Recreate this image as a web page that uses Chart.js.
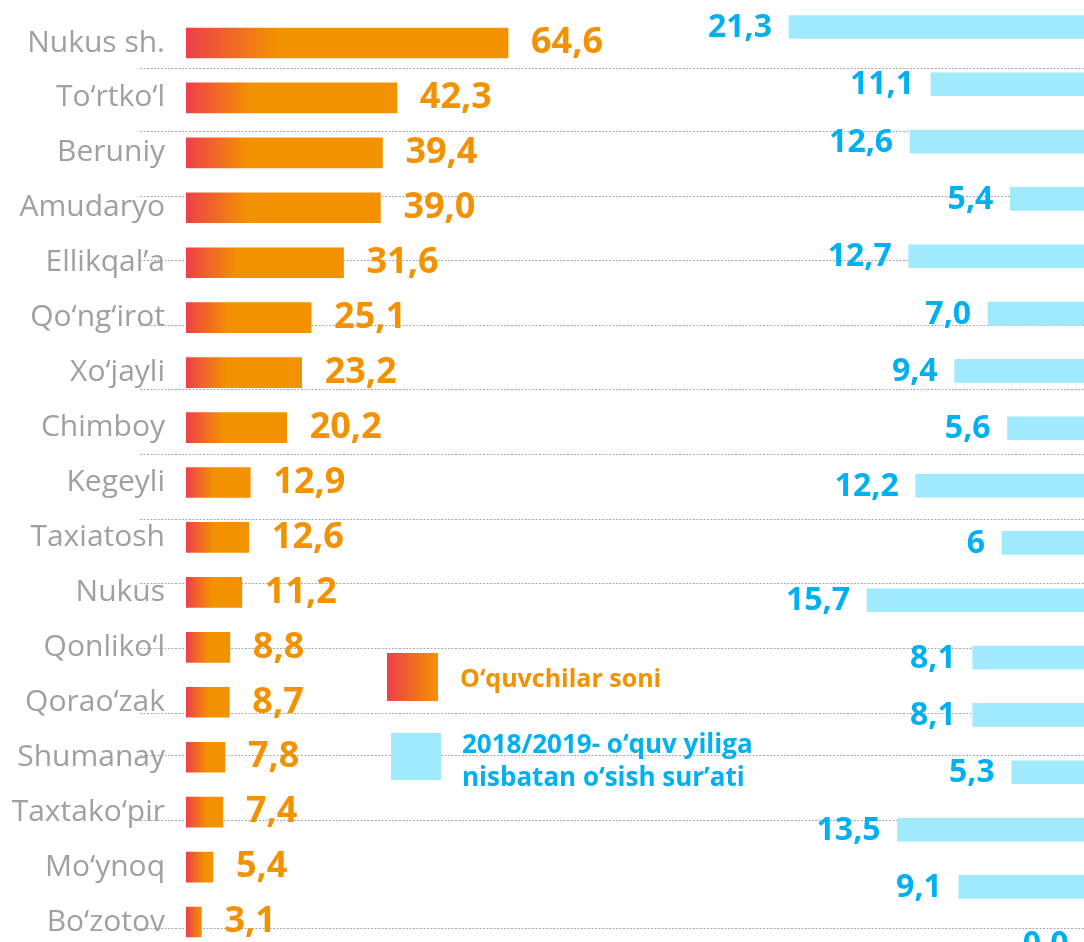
<!DOCTYPE html>
<html lang="uz">
<head>
    <meta charset="UTF-8">
    <title>O‘quvchilar soni</title>
    <script src="https://cdn.jsdelivr.net/npm/chart.js@4.4.1/dist/chart.umd.min.js"></script>
    <style>
        html, body {
            margin: 0;
            padding: 0;
            background: #fff;
            overflow: hidden;
        }

        #wrap {
            position: relative;
            width: 1084px;
            height: 942px;
            overflow: hidden;
            font-family: "Open Sans", sans-serif;
        }

        /* blue chart sits behind and carries the dotted grid */
        #growthBox {
            position: absolute;
            left: 0;
            top: -30px;
            width: 1100px;
            height: 1010px;
        }

        #pupilsBox {
            position: absolute;
            left: 0;
            top: 0;
            width: 1084px;
            height: 980px;
        }

        .legend-box {
            position: absolute;
        }

        .legend-text {
            position: absolute;
            font-weight: 700;
            font-size: 25px;
            white-space: nowrap;
        }
    </style>
</head>
<body>
    <div id="wrap">
        <div id="growthBox"><canvas id="growthChart"></canvas></div>
        <div id="pupilsBox"><canvas id="pupilsChart"></canvas></div>

        <div class="legend-box" style="left:387px;top:653px;width:51px;height:48px;background:linear-gradient(to right,#EE3F4A,#F39200);"></div>
        <div class="legend-text" style="left:460px;top:665px;line-height:25px;color:#F39200;">O‘quvchilar soni</div>

        <div class="legend-box" style="left:391px;top:733px;width:50px;height:47px;background:#A0EAFD;"></div>
        <div class="legend-text" style="left:462px;top:727px;line-height:33px;color:#00B0F0;font-size:26px;">2018/2019- o‘quv yiliga<br>nisbatan o‘sish sur’ati</div>
    </div>

    <script>
        // data
        const districts = ['Nukus sh.', 'To‘rtko‘l', 'Beruniy', 'Amudaryo', 'Ellikqal’a', 'Qo‘ng‘irot', 'Xo‘jayli',
            'Chimboy', 'Kegeyli', 'Taxiatosh', 'Nukus', 'Qonliko‘l', 'Qorao‘zak', 'Shumanay', 'Taxtako‘pir',
            'Mo‘ynoq', 'Bo‘zotov'];
        const pupils = [64.6, 42.3, 39.4, 39.0, 31.6, 25.1, 23.2, 20.2, 12.9, 12.6, 11.2, 8.8, 8.7, 7.8, 7.4, 5.4, 3.1];
        // growth rate, kept as printed (one value has no decimal)
        const growth = ['21.3', '11.1', '12.6', '5.4', '12.7', '7.0', '9.4', '5.6', '12.2', '6', '15.7', '8.1', '8.1',
            '5.3', '13.5', '9.1', '0.0'];
        // page y of the dotted separator lines
        const gridRows = [68, 137, 207, 277, 347, 417, 487, 557, 627, 697, 767, 790, 907];

        const ORANGE = '#F39200';
        const RED = '#EE3F4A';
        const BLUE_BAR = '#A0EAFD';
        const BLUE_TEXT = '#00B0F0';
        const GREY = '#A0A0A0';

        function comma(v) {
            if (typeof v === 'string') return v.replace('.', ',');
            return v.toFixed(1).replace('.', ',');
        }

        function makeLabels(o) {
            return {
                id: 'valueLabels',
                afterDatasetsDraw(chart) {
                    const ctx = chart.ctx;
                    const meta = chart.getDatasetMeta(0);
                    const data = chart.data.datasets[0].data;
                    ctx.save();
                    ctx.font = o.font;
                    ctx.fillStyle = o.color;
                    ctx.textAlign = o.align;
                    ctx.textBaseline = 'middle';
                    meta.data.forEach((bar, i) => {
                        ctx.fillText(comma(data[i]), bar.x + o.offset, bar.y + o.dy);
                    });
                    ctx.restore();
                }
            };
        }

        // ---- right side: growth rate, bars grow leftwards from the right edge
        const growthPad = { left: 140, right: 14.5, top: 28.3, bottom: 7.1 };
        const growthMax = (1085.5 - 140) / 13.92;
        const boxTop = -30, boxH = 1010;

        new Chart(document.getElementById('growthChart'), {
            type: 'bar',
            data: {
                labels: districts,
                datasets: [{
                    data: growth,
                    backgroundColor: BLUE_BAR,
                    barThickness: 23,
                    xAxisID: 'x',
                    yAxisID: 'y'
                }]
            },
            options: {
                indexAxis: 'y',
                responsive: true,
                maintainAspectRatio: false,
                animation: false,
                layout: { padding: growthPad },
                plugins: { legend: { display: false }, tooltip: { enabled: false } },
                scales: {
                    x: { display: false, reverse: true, min: 0, max: growthMax },
                    y: { display: false },
                    g: {
                        type: 'linear',
                        position: 'left',
                        display: true,
                        reverse: true,
                        min: boxTop + growthPad.top,
                        max: boxTop + boxH - growthPad.bottom,
                        afterBuildTicks: scale => { scale.ticks = gridRows.map(v => ({ value: v })); },
                        afterFit: scale => {
                            scale.width = 0;
                            scale.paddingTop = 0;
                            scale.paddingBottom = 0;
                        },
                        ticks: { display: false },
                        grid: { color: '#A8A8A8', lineWidth: 1, drawTicks: false },
                        border: { display: false, dash: [2, 1.5] }
                    }
                }
            },
            plugins: [makeLabels({ font: '700 32px "Open Sans"', color: BLUE_TEXT, align: 'right', offset: -17, dy: 1 })]
        });

        // ---- left side: number of pupils
        const pupilPx = 4.985;
        const pupilLeft = 186;

        new Chart(document.getElementById('pupilsChart'), {
            type: 'bar',
            data: {
                labels: districts,
                datasets: [{
                    data: pupils,
                    barThickness: 30,
                    backgroundColor(c) {
                        const chart = c.chart;
                        if (!chart.chartArea || c.type !== 'data') return ORANGE;
                        const xs = chart.scales.x;
                        const x0 = xs.getPixelForValue(0);
                        const w = Math.max(1, xs.getPixelForValue(c.parsed.x) - x0);
                        const g = chart.ctx.createLinearGradient(x0, 0, x0 + w, 0);
                        g.addColorStop(0, RED);
                        g.addColorStop(Math.min(1, (0.25 * w + 12) / w), ORANGE);
                        g.addColorStop(1, ORANGE);
                        return g;
                    }
                }]
            },
            options: {
                indexAxis: 'y',
                responsive: true,
                maintainAspectRatio: false,
                animation: false,
                layout: { padding: { left: 0, right: 0, top: 15.5, bottom: 30.5 } },
                plugins: { legend: { display: false }, tooltip: { enabled: false } },
                scales: {
                    x: { display: false, min: 0, max: (1084 - pupilLeft) / pupilPx },
                    y: {
                        afterFit: scale => {
                            scale.width = pupilLeft;
                            scale.paddingTop = 0;
                            scale.paddingBottom = 0;
                        },
                        grid: { display: false, drawTicks: false },
                        border: { display: false },
                        ticks: {
                            padding: 21,
                            color: GREY,
                            font: { family: 'Open Sans', size: 30 }
                        }
                    }
                }
            },
            plugins: [makeLabels({ font: '700 36px "Open Sans"', color: ORANGE, align: 'left', offset: 23, dy: 0 })]
        });
    </script>
</body>
</html>
